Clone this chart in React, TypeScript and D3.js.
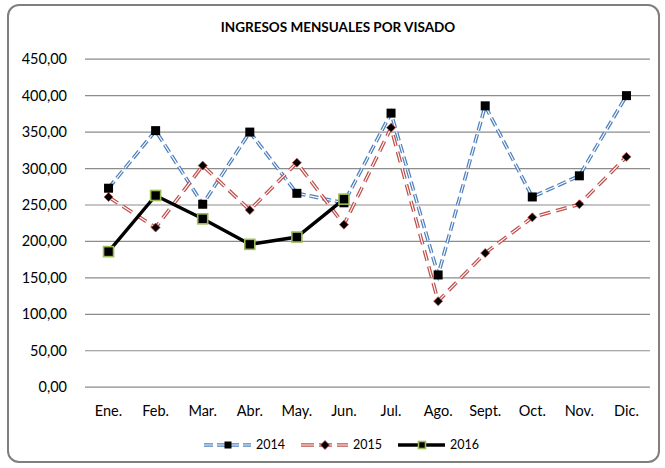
import * as d3 from "d3";

const months = ["Ene.", "Feb.", "Mar.", "Abr.", "May.", "Jun.", "Jul.", "Ago.", "Sept.", "Oct.", "Nov.", "Dic."];
const v2014 = [273, 352, 251, 350, 266, 253, 376, 154, 386, 261, 290, 400];
const v2015 = [261, 219, 304, 243, 308, 223, 356, 118, 184, 233, 251, 316];
const v2016 = [186, 263, 231, 196, 206, 258];
const yTicks = [0, 50, 100, 150, 200, 250, 300, 350, 400, 450];

const W = 665;
const H = 468;
const FONT = "Lato, 'Open Sans', sans-serif";
const BLUE = "#4F81BD";
const RED = "#C0504D";
const GREEN = "#9BBB59";

const fmt = (v: number) => v.toFixed(2).replace(".", ",");

export default function App() {
  const x = d3.scaleBand<string>().domain(months).range([85, 650]);
  const y = d3.scaleLinear().domain([0, 450]).range([387.2, 59.2]);
  const cx = (m: string) => (x(m) ?? 0) + x.bandwidth() / 2;

  const line = d3
    .line<number>()
    .x((_, i) => cx(months[i]))
    .y((d) => y(d));

  const square = (px: number, py: number, s: number, stroke?: string, key?: string) => (
    <rect
      key={key}
      x={px - s / 2}
      y={py - s / 2}
      width={s}
      height={s}
      fill="#000"
      stroke={stroke ?? "none"}
      strokeWidth={stroke ? 1.6 : 0}
    />
  );
  const diamond = (px: number, py: number, key?: string) => (
    <path
      key={key}
      d={`M${px},${py - 4.5}L${px + 4.5},${py}L${px},${py + 4.5}L${px - 4.5},${py}Z`}
      fill="#000"
      stroke={RED}
      strokeWidth={0.8}
    />
  );

  // double (compound) dashed line: colored stroke with thin white core
  const doubleLine = (d: string, color: string, dash: string, key: string) => (
    <g key={key}>
      <path d={d} fill="none" stroke={color} strokeWidth={3.6} strokeDasharray={dash} />
      <path d={d} fill="none" stroke="#fff" strokeWidth={1.1} strokeDasharray={dash} />
    </g>
  );

  const legend = [
    { label: "2014", x0: 204 },
    { label: "2015", x0: 301 },
    { label: "2016", x0: 398 },
  ];
  const ly = 445;

  return (
    <svg
      width={W}
      height={H}
      viewBox={`0 0 ${W} ${H}`}
      style={{ position: "absolute", left: 0, top: 0, background: "#fff" }}
    >
      <rect x={8} y={5} width={651} height={457} rx={11} fill="#fff" stroke="#7f7f7f" strokeWidth={2} />
      <text x={338} y={32} textAnchor="middle" fontFamily={FONT} fontWeight="bold" fontSize={13.5} fill="#000">
        INGRESOS MENSUALES POR VISADO
      </text>

      {yTicks.map((t) => (
        <g key={t}>
          <line x1={85} x2={650} y1={y(t)} y2={y(t)} stroke="#8c8c8c" strokeWidth={1.2} />
          <text x={67} y={y(t)} dy="0.35em" textAnchor="end" fontFamily={FONT} fontSize={14.5} fill="#000">
            {fmt(t)}
          </text>
        </g>
      ))}

      {months.map((m) => (
        <text key={m} x={cx(m)} y={416} textAnchor="middle" fontFamily={FONT} fontSize={14.5} fill="#000">
          {m}
        </text>
      ))}

      {doubleLine(line(v2014) ?? "", BLUE, "9 4", "l14")}
      {doubleLine(line(v2015) ?? "", RED, "11 6", "l15")}
      <path d={line(v2016) ?? ""} fill="none" stroke="#000" strokeWidth={3.4} />

      {v2015.map((v, i) => diamond(cx(months[i]), y(v), `d${i}`))}
      {v2014.map((v, i) => square(cx(months[i]), y(v), 9, undefined, `s${i}`))}
      {v2016.map((v, i) => square(cx(months[i]), y(v), 10, GREEN, `g${i}`))}

      {legend.map((l, i) => {
        const mid = l.x0 + 24;
        const d = `M${l.x0},${ly}L${l.x0 + 47},${ly}`;
        return (
          <g key={l.label}>
            {i === 0 && doubleLine(d, BLUE, "9 4", "lg0")}
            {i === 1 && doubleLine(d, RED, "13 5", "lg1")}
            {i === 2 && <path d={d} stroke="#000" strokeWidth={3.4} />}
            {i === 0 && square(mid, ly, 7)}
            {i === 1 && diamond(mid, ly)}
            {i === 2 && square(mid, ly, 7, GREEN)}
            <text x={l.x0 + 52} y={ly} dy="0.35em" fontFamily={FONT} fontSize={12.5} fill="#000">
              {l.label}
            </text>
          </g>
        );
      })}
    </svg>
  );
}
